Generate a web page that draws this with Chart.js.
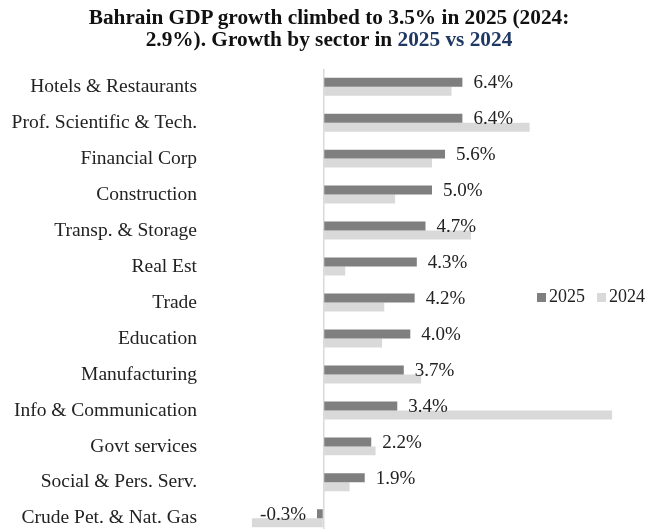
<!DOCTYPE html>
<html>
<head>
<meta charset="utf-8">
<script src="https://cdn.jsdelivr.net/npm/chart.js@4"></script>
<style>
  html, body { margin: 0; padding: 0; background: #fff; overflow: hidden; }
  #wrap { position: relative; width: 656px; height: 529px; overflow: hidden; }
  #gdpChart { position: absolute; left: 0; top: 0; }
  #title {
    position: absolute; left: 0; top: 6px; width: 658px; text-align: center;
    font: bold 21.3px "Liberation Serif", "Times New Roman", serif; line-height: 22px; color: #111;
  }
  #title .hl { color: #1f3864; }
  #legend {
    position: absolute; left: 537px; top: 286px;
    font: 18px "Liberation Serif", "Times New Roman", serif; color: #222; white-space: nowrap;
  }
  #legend span.item { margin-right: 12px; }
  #legend i { display: inline-block; width: 9px; height: 9px; margin-right: 3px; }
</style>
</head>
<body>
<div id="wrap">
  <canvas id="gdpChart" width="656" height="566"></canvas>
  <div id="title">Bahrain GDP growth climbed to 3.5% in 2025 (2024:<br>2.9%). Growth by sector in <span class="hl">2025 vs 2024</span></div>
  <div id="legend"></div>
</div>
<script>
const sectors = [
  "Hotels & Restaurants", "Prof. Scientific & Tech.", "Financial Corp", "Construction",
  "Transp. & Storage", "Real Est", "Trade", "Education", "Manufacturing",
  "Info & Communication", "Govt services", "Social & Pers. Serv.", "Crude Pet. & Nat. Gas"
];
const growth2025 = [6.4, 6.4, 5.6, 5.0, 4.7, 4.3, 4.2, 4.0, 3.7, 3.4, 2.2, 1.9, -0.3];
const growth2024 = [5.9, 9.5, 5.0, 3.3, 6.8, 1.0, 2.8, 2.7, 4.5, 13.3, 2.4, 1.2, -3.3];
const seriesNames = ["2025", "2024"];
const seriesColors = ["#7f7f7f", "#d9d9d9"];

const serif = "'Liberation Serif', 'Times New Roman', serif";

// etiquetas de valor na serie 2025
const valueLabels = {
  id: "valueLabels",
  afterDatasetsDraw(chart) {
    const ctx = chart.ctx;
    const meta = chart.getDatasetMeta(0);
    ctx.save();
    ctx.font = "19px " + serif;
    ctx.fillStyle = "#222";
    ctx.textBaseline = "middle";
    meta.data.forEach((bar, i) => {
      const v = growth2025[i];
      const txt = v.toFixed(1) + "%";
      if (v >= 0) {
        ctx.textAlign = "left";
        ctx.fillText(txt, bar.x + 11, bar.y + 1);
      } else {
        ctx.textAlign = "right";
        ctx.fillText(txt, bar.x - 11, bar.y + 1);
      }
    });
    ctx.restore();
  }
};

const chart = new Chart(document.getElementById("gdpChart"), {
  type: "bar",
  data: {
    labels: sectors,
    datasets: [
      { label: seriesNames[0], data: growth2025, backgroundColor: seriesColors[0] },
      { label: seriesNames[1], data: growth2024, backgroundColor: seriesColors[1] }
    ]
  },
  options: {
    indexAxis: "y",
    responsive: false,
    animation: false,
    categoryPercentage: 0.5,
    barPercentage: 1.0,
    layout: { padding: { top: 68.7, bottom: 3.3, left: 0, right: 7 }, autoPadding: false },
    plugins: { legend: { display: false }, title: { display: false }, tooltip: { enabled: false } },
    scales: {
      x: {
        min: -5, max: 15,
        afterFit: scale => { scale.height = 0; },
        ticks: { display: false, stepSize: 5 },
        border: { display: false },
        grid: {
          drawTicks: false,
          color: c => (c.tick && c.tick.value === 0 ? "#d9d9d9" : "rgba(0,0,0,0)"),
          lineWidth: 1.5
        }
      },
      y: {
        afterFit: scale => { scale.width = 215; },
        border: { display: false },
        grid: { display: false, drawTicks: false },
        ticks: { padding: 18, color: "#222", font: { family: serif, size: 19.5 } }
      }
    }
  },
  plugins: [valueLabels]
});

// legenda
const legend = document.getElementById("legend");
seriesNames.forEach((name, i) => {
  const item = document.createElement("span");
  item.className = "item";
  item.innerHTML = '<i style="background:' + seriesColors[i] + '"></i>' + name;
  legend.appendChild(item);
});
</script>
</body>
</html>
